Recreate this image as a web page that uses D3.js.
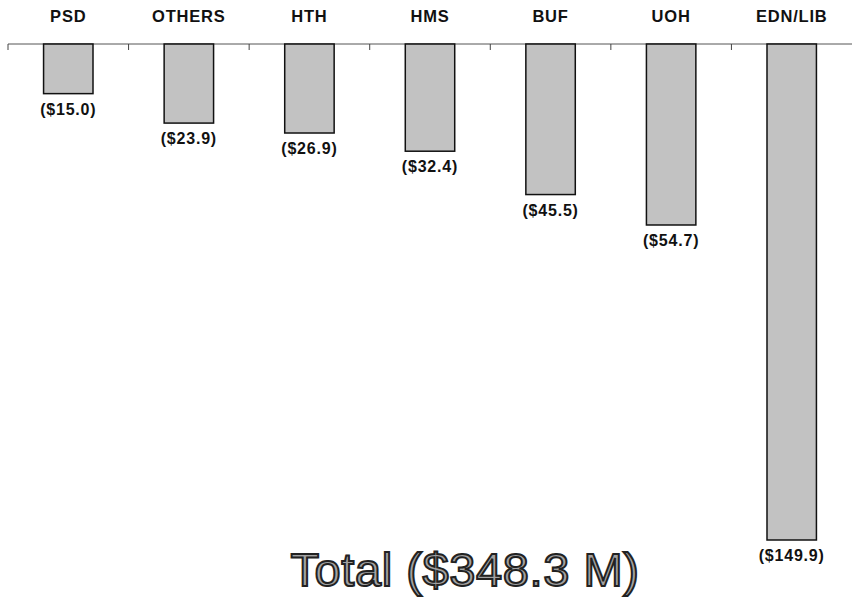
<!DOCTYPE html>
<html><head><meta charset="utf-8">
<script src="https://cdn.jsdelivr.net/npm/d3@7"></script>
<style>body{margin:0;background:#fff}svg{display:block}</style>
</head><body>
<svg id="c" width="852" height="598"></svg>
<script>
const categories = ["PSD","OTHERS","HTH","HMS","BUF","UOH","EDN/LIB"];
const values = [15.0, 23.9, 26.9, 32.4, 45.5, 54.7, 149.9];
const valueLabels = ["($15.0)","($23.9)","($26.9)","($32.4)","($45.5)","($54.7)","($149.9)"];
const totalLabel = "Total ($348.3 M)";

const svg = d3.select("#c");
const x = d3.scaleBand().domain(categories).range([8, 852]).paddingInner(0.59).paddingOuter(0.295);
const xb = d3.scaleBand().domain(categories).range([8, 852]);
const y = d3.scaleLinear().domain([0, 149.9]).range([44, 540]);

// axis line
svg.append("line").attr("x1", 8).attr("x2", 852).attr("y1", 44).attr("y2", 44)
  .attr("stroke", "#555").attr("stroke-width", 1);
// ticks at band boundaries
svg.selectAll("line.tk").data(categories).enter().append("line").attr("class","tk")
  .attr("x1", d => xb(d)).attr("x2", d => xb(d))
  .attr("y1", 44).attr("y2", 50).attr("stroke", "#444").attr("stroke-width", 1);

const font = "Liberation Sans, Arial, Helvetica, sans-serif";
// category labels
svg.selectAll("text.cat").data(categories).enter().append("text").attr("class","cat")
  .attr("x", d => x(d) + x.bandwidth()/2).attr("y", 22)
  .attr("text-anchor","middle").attr("font-family",font)
  .attr("font-weight","bold").attr("font-size", 16.5).attr("letter-spacing", 0.8)
  .attr("fill","#111").text(d => d);

// bars
svg.selectAll("rect.bar").data(values).enter().append("rect").attr("class","bar")
  .attr("x", (d,i) => x(categories[i])).attr("y", y(0))
  .attr("width", x.bandwidth()).attr("height", d => y(d) - y(0))
  .attr("fill", "#c2c2c2").attr("stroke", "#111").attr("stroke-width", 1.5);

// value labels
svg.selectAll("text.val").data(values).enter().append("text").attr("class","val")
  .attr("x", (d,i) => x(categories[i]) + x.bandwidth()/2).attr("y", d => y(d) + 21)
  .attr("text-anchor","middle").attr("font-family",font)
  .attr("font-weight","bold").attr("font-size", 16).attr("letter-spacing", 0.8)
  .attr("fill","#111")
  .text((d,i) => valueLabels[i]);

// total
svg.append("text").attr("x", 465).attr("y", 586).attr("text-anchor","middle")
  .attr("font-family",font).attr("font-size", 47).attr("letter-spacing", 0.6)
  .attr("fill","#a2a2a2").attr("stroke","#222").attr("stroke-width",2)
  .text(totalLabel);
</script>
</body></html>
